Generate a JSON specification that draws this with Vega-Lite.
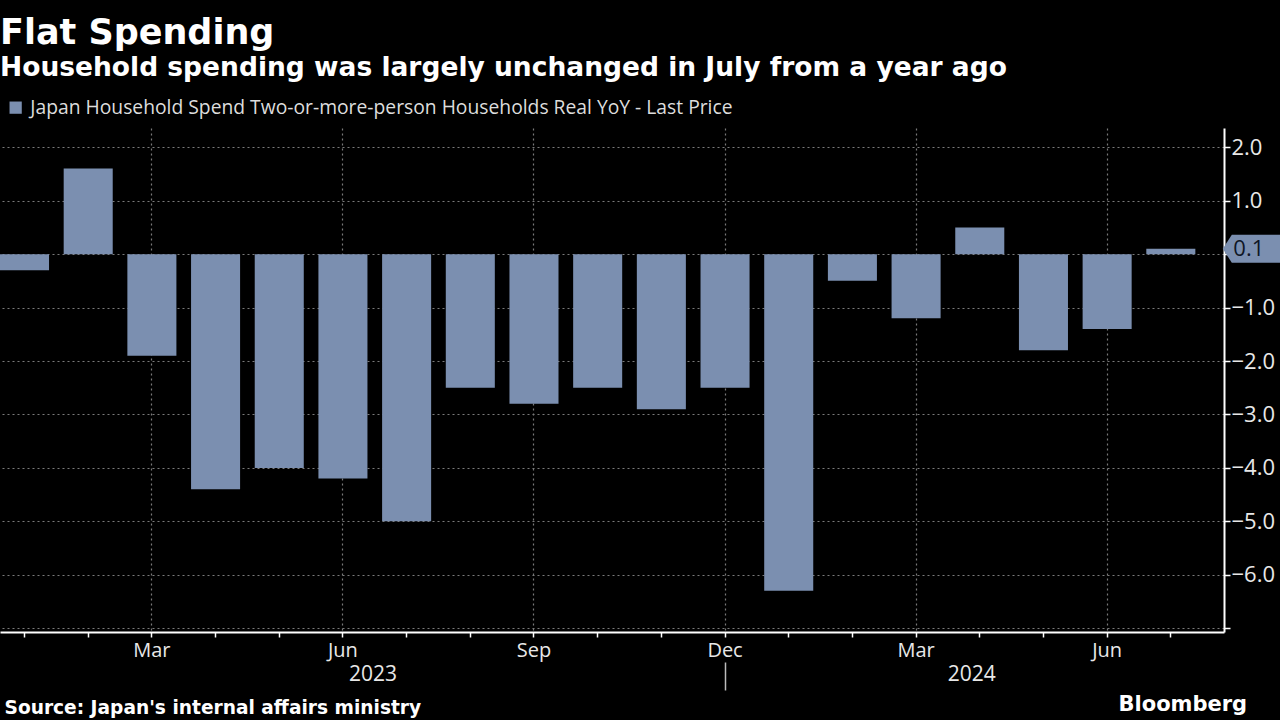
{
  "$schema": "https://vega.github.io/schema/vega-lite/v6.json",
  "width": 1224,
  "height": 504,
  "autosize": {"type": "none"},
  "padding": {"left": 0, "top": 128, "right": 56, "bottom": 88},
  "background": "#000000",
  "config": {"view": {"stroke": null}},
  "title": {
    "text": "Flat Spending",
    "subtitle": "Household spending was largely unchanged in July from a year ago",
    "anchor": "start",
    "frame": "group",
    "orient": "top",
    "offset": 17,
    "font": "DejaVu Sans",
    "fontSize": 35,
    "fontWeight": "bold",
    "color": "#ffffff",
    "subtitleFont": "DejaVu Sans",
    "subtitleFontSize": 26.5,
    "subtitleFontWeight": "bold",
    "subtitleColor": "#ffffff",
    "subtitlePadding": 4
  },
  "data": {
    "values": [
      {"month": "2023-01", "value": -0.3},
      {"month": "2023-02", "value": 1.6},
      {"month": "2023-03", "value": -1.9},
      {"month": "2023-04", "value": -4.4},
      {"month": "2023-05", "value": -4.0},
      {"month": "2023-06", "value": -4.2},
      {"month": "2023-07", "value": -5.0},
      {"month": "2023-08", "value": -2.5},
      {"month": "2023-09", "value": -2.8},
      {"month": "2023-10", "value": -2.5},
      {"month": "2023-11", "value": -2.9},
      {"month": "2023-12", "value": -2.5},
      {"month": "2024-01", "value": -6.3},
      {"month": "2024-02", "value": -0.5},
      {"month": "2024-03", "value": -1.2},
      {"month": "2024-04", "value": 0.5},
      {"month": "2024-05", "value": -1.8},
      {"month": "2024-06", "value": -1.4},
      {"month": "2024-07", "value": 0.1}
    ]
  },
  "layer": [
    {
      "mark": {"type": "bar"},
      "encoding": {
        "x": {
          "field": "month",
          "type": "ordinal",
          "scale": {"paddingInner": 0.23, "paddingOuter": 0.225, "align": 0},
          "axis": {
            "orient": "bottom",
            "domainColor": "#ffffff",
            "domainWidth": 2,
            "ticks": true,
            "tickColor": "#ffffff",
            "tickSize": 5,
            "tickWidth": 1.5,
            "labelAngle": 0,
            "labelExpr": "slice(datum.value,5)=='03' ? 'Mar' : slice(datum.value,5)=='06' ? 'Jun' : slice(datum.value,5)=='09' ? 'Sep' : slice(datum.value,5)=='12' ? 'Dec' : ''",
            "labelFont": "Open Sans",
            "labelFontSize": 20,
            "labelColor": "#e8e8e8",
            "labelPadding": 3,
            "grid": true,
            "gridColor": "#7a7a7a",
            "gridDash": [2, 3],
            "gridWidth": 1.2,
            "gridOpacity": {"condition": {"test": "indexof(['03','06','09','12'], slice(datum.value,5)) >= 0", "value": 1}, "value": 0},
            "title": "Source: Japan's internal affairs ministry",
            "titleFont": "DejaVu Sans",
            "titleFontSize": 18.6,
            "titleFontWeight": "bold",
            "titleColor": "#ffffff",
            "titleAnchor": "start",
            "titleAlign": "left",
            "titleBaseline": "alphabetic",
            "titleX": 4,
            "titleY": 81
          }
        },
        "y": {
          "field": "value",
          "type": "quantitative",
          "scale": {"domain": [-7.07, 2.36], "nice": false, "zero": false},
          "axis": {
            "orient": "right",
            "values": [-7, -6.5, -6, -5.5, -5, -4.5, -4, -3.5, -3, -2.5, -2, -1.5, -1, -0.5, 0, 0.5, 1, 1.5, 2],
            "domainColor": "#ffffff",
            "domainWidth": 2,
            "tickColor": "#ffffff",
            "tickWidth": 1.5,
            "tickSize": {"condition": {"test": "datum.value % 1 == 0", "value": 6}, "value": 4},
            "labelExpr": "(datum.value % 1 == 0 && datum.value != 0 && datum.value > -7) ? format(datum.value, '.1f') : ''",
            "labelFont": "Open Sans",
            "labelFontSize": 22,
            "labelColor": "#e8e8e8",
            "labelPadding": 1,
            "grid": true,
            "gridColor": "#7a7a7a",
            "gridDash": [2, 3],
            "gridWidth": 1.2,
            "gridOpacity": {"condition": {"test": "datum.value % 1 == 0", "value": 1}, "value": 0},
            "title": "Bloomberg",
            "titleFont": "DejaVu Sans",
            "titleFontSize": 21,
            "titleFontWeight": "bold",
            "titleColor": "#ffffff",
            "titleAngle": 0,
            "titleAlign": "left",
            "titleBaseline": "alphabetic",
            "titleX": -106,
            "titleY": 582
          }
        },
        "color": {
          "datum": "Japan Household Spend Two-or-more-person Households Real YoY - Last Price",
          "scale": {"range": ["#7b8fb0"]},
          "legend": {
            "orient": "none",
            "legendX": 6,
            "legendY": -30,
            "title": null,
            "symbolType": "square",
            "symbolSize": 150,
            "symbolStrokeWidth": 0,
            "labelOffset": 5,
            "labelFont": "Open Sans",
            "labelFontSize": 19.3,
            "labelColor": "#dddddd",
            "labelLimit": 900
          }
        }
      }
    },
    {
      "mark": {"type": "tick", "opacity": 0},
      "encoding": {
        "x": {
          "field": "month",
          "type": "ordinal",
          "axis": {
            "orient": "bottom",
            "offset": 30,
            "values": ["2023-06", "2023-12", "2024-04"],
            "domain": false,
            "grid": false,
            "ticks": true,
            "tickSize": 28,
            "tickWidth": 1.5,
            "tickColor": "#bbbbbb",
            "tickOpacity": {"condition": {"test": "datum.value == '2023-12'", "value": 1}, "value": 0},
            "labelExpr": "datum.value == '2023-06' ? '2023' : datum.value == '2024-04' ? '2024' : ''",
            "labelOffset": {"condition": {"test": "datum.value == '2023-06'", "value": 30}, "value": -8},
            "labelPadding": -27,
            "labelAngle": 0,
            "labelFont": "Open Sans",
            "labelFontSize": 21,
            "labelColor": "#e8e8e8",
            "title": null
          }
        }
      }
    },
    {
      "transform": [{"filter": "datum.month == '2024-07'"}],
      "mark": {
        "type": "point",
        "shape": "M5.2,0 L6.1,-1.4 L11.2,-1.4 L11.2,1.4 L6.1,1.4 Z",
        "size": 400,
        "filled": true,
        "opacity": 1,
        "color": "#7b8fb0",
        "strokeWidth": 0
      },
      "encoding": {
        "x": {"field": "month", "type": "ordinal", "axis": null},
        "y": {"field": "value", "type": "quantitative", "scale": {"domain": [-7.07, 2.36], "nice": false, "zero": false}}
      }
    },
    {
      "transform": [{"filter": "datum.month == '2024-07'"}],
      "mark": {
        "type": "text",
        "dx": 78,
        "align": "center",
        "baseline": "middle",
        "font": "Open Sans",
        "fontSize": 22,
        "color": "#0f1626"
      },
      "encoding": {
        "x": {"field": "month", "type": "ordinal", "axis": null},
        "y": {"field": "value", "type": "quantitative", "scale": {"domain": [-7.07, 2.36], "nice": false, "zero": false}},
        "text": {"field": "value", "type": "quantitative", "format": ".1f"}
      }
    }
  ],
  "resolve": {"axis": {"x": "independent"}}
}
